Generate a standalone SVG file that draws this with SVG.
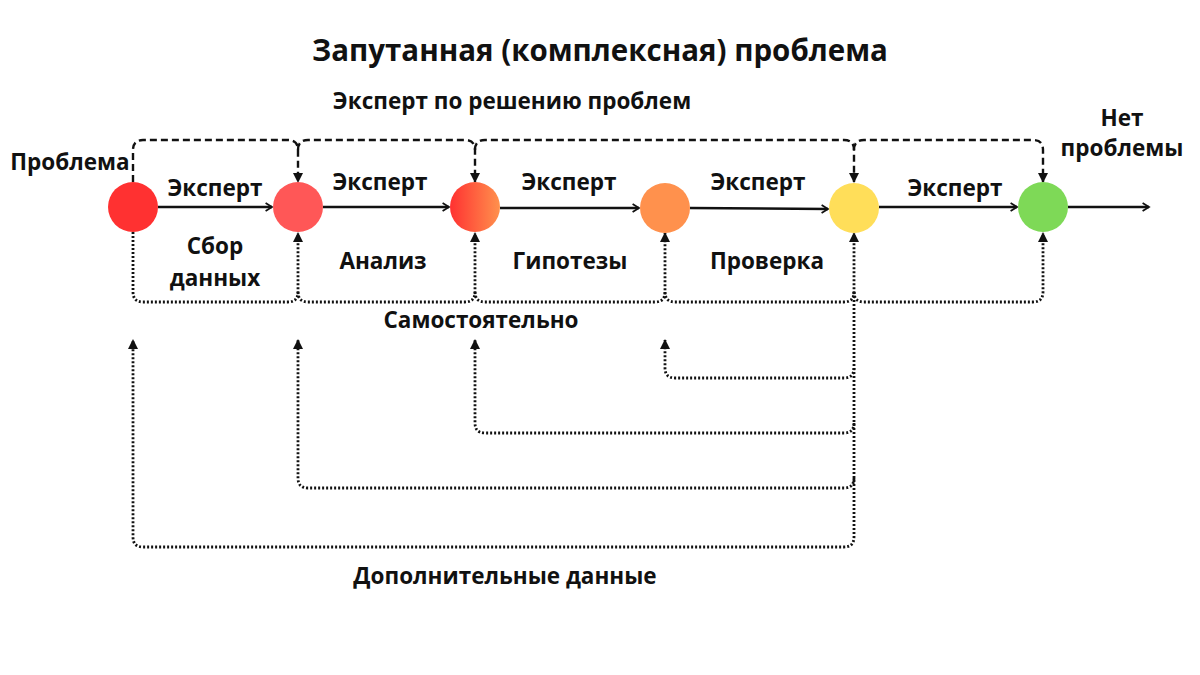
<svg xmlns="http://www.w3.org/2000/svg" width="1200" height="675" viewBox="0 0 1200 675">
<style>
text{font-family:"Open Sans","Noto Sans","Liberation Sans",sans-serif;font-weight:700;fill:#111;text-anchor:middle}
.t{font-size:29.5px}
.l{font-size:22.5px}
.solid{stroke:#111;stroke-width:2.4;fill:none}
.dash{stroke:#111;stroke-width:2.4;fill:none;stroke-dasharray:7 4}
.dot{stroke:#111;stroke-width:2.8;fill:none;stroke-dasharray:2 2}
</style>
<defs>
<marker id="chev" viewBox="0 0 10 10" refX="9" refY="5" markerWidth="8" markerHeight="8" markerUnits="userSpaceOnUse" orient="auto" overflow="visible">
<path d="M1,0 L9,5 L1,10" fill="none" stroke="#111" stroke-width="2.2"/>
</marker>
<marker id="tri" viewBox="0 0 10 10" refX="9" refY="5" markerWidth="10" markerHeight="10" markerUnits="userSpaceOnUse" orient="auto">
<path d="M0,0 L10,5 L0,10 Z" fill="#111"/>
</marker>
<linearGradient id="g3" x1="0" y1="0" x2="1" y2="0">
<stop offset="0" stop-color="#ff3131"/>
<stop offset="1" stop-color="#ff914d"/>
</linearGradient>
</defs>
<text class="t" x="600" y="61">Запутанная (комплексная) проблема</text>
<text class="l" x="512" y="109">Эксперт по решению проблем</text>
<text class="l" x="70" y="170">Проблема</text>
<text class="l" x="1122" y="126">Нет</text>
<text class="l" x="1122" y="156">проблемы</text>
<g id="connectors">
<path class="solid" d="M158,207 H272" marker-end="url(#chev)"/>
<path class="solid" d="M323,207 H449" marker-end="url(#chev)"/>
<path class="solid" d="M500,208 H639" marker-end="url(#chev)"/>
<path class="solid" d="M690,208 L828,209" marker-end="url(#chev)"/>
<path class="solid" d="M879,207 H1017" marker-end="url(#chev)"/>
<path class="solid" d="M1068,207 H1149" marker-end="url(#chev)"/>
<path class="dash" d="M133,182 V150 Q133,140 143,140 H288 Q298,140 298,150 V182" marker-end="url(#tri)"/>
<path class="dash" d="M298,150 Q298,140 308,140 H465 Q475,140 475,150 V182" marker-end="url(#tri)"/>
<path class="dash" d="M475,150 Q475,140 485,140 H844 Q854,140 854,150 V182" marker-end="url(#tri)"/>
<path class="dash" d="M854,150 Q854,140 864,140 H1033 Q1043,140 1043,150 V182" marker-end="url(#tri)"/>
<path class="dot" d="M133,232 V292 Q133,302 143,302 H288 Q298,302 298,292 V233" marker-end="url(#tri)"/>
<path class="dot" d="M298,292 Q298,302 308,302 H465 Q475,302 475,292 V233" marker-end="url(#tri)"/>
<path class="dot" d="M475,292 Q475,302 485,302 H655 Q665,302 665,292 V233" marker-end="url(#tri)"/>
<path class="dot" d="M665,292 Q665,302 675,302 H844 Q854,302 854,292 V233" marker-end="url(#tri)"/>
<path class="dot" d="M854,292 Q854,302 864,302 H1033 Q1043,302 1043,292 V233" marker-end="url(#tri)"/>
<path class="dot" d="M854,292 V537 Q854,547 844,547 H143 Q133,547 133,537 V340" marker-end="url(#tri)"/>
<path class="dot" d="M854,478 Q854,488 844,488 H308 Q298,488 298,478 V340" marker-end="url(#tri)"/>
<path class="dot" d="M854,423 Q854,433 844,433 H485 Q475,433 475,423 V340" marker-end="url(#tri)"/>
<path class="dot" d="M854,368 Q854,378 844,378 H675 Q665,378 665,368 V340" marker-end="url(#tri)"/>
</g>
<g id="n1"><circle cx="133" cy="207" r="25" fill="#ff3131"/></g>
<g id="n2"><circle cx="298" cy="207" r="25" fill="#ff5757"/></g>
<g id="n3"><circle cx="475" cy="207" r="25" fill="url(#g3)"/></g>
<g id="n4"><circle cx="665" cy="208" r="25" fill="#ff914d"/></g>
<g id="n5"><circle cx="854" cy="208" r="25" fill="#ffde59"/></g>
<g id="n6"><circle cx="1043" cy="207" r="25" fill="#7ed957"/></g>
<g id="labels">
<text class="l" x="215" y="196">Эксперт</text>
<text class="l" x="380" y="190">Эксперт</text>
<text class="l" x="569" y="190">Эксперт</text>
<text class="l" x="758" y="190">Эксперт</text>
<text class="l" x="955" y="196">Эксперт</text>
<text class="l" x="215" y="254">Сбор</text>
<text class="l" x="215" y="286">данных</text>
<text class="l" x="383" y="269">Анализ</text>
<text class="l" x="570" y="269">Гипотезы</text>
<text class="l" x="767" y="269">Проверка</text>
<text class="l" x="481" y="328">Самостоятельно</text>
<text class="l" x="505" y="584">Дополнительные данные</text>
</g>
</svg>
